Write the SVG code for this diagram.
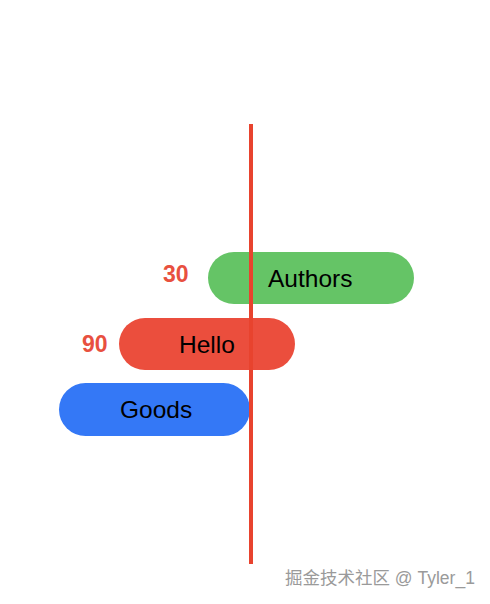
<svg xmlns="http://www.w3.org/2000/svg" width="490" height="604" viewBox="0 0 490 604">
<style>
.lbl{font-family:"Liberation Sans",Arial,sans-serif;font-size:24.5px;fill:#000}
.num{font-family:"Liberation Sans",Arial,sans-serif;font-size:23px;font-weight:bold;fill:#E8503F}
.wm{font-family:"Liberation Sans","Noto Sans CJK SC",sans-serif;font-size:17.5px;fill:#9a9a9a;stroke:#ffffff;stroke-width:0.6;paint-order:stroke}
</style>
<rect width="490" height="604" fill="#ffffff"/>
<g id="authors">
<rect x="208" y="252" width="206" height="52" rx="26" fill="#65C466"/>
<text class="lbl" x="268" y="287">Authors</text>
</g>
<g id="label30"><text class="num" x="163" y="282">30</text></g>
<g id="hello">
<rect x="119" y="318" width="176" height="52" rx="26" fill="#EB4E3D"/>
<text class="lbl" x="179" y="353">Hello</text>
</g>
<g id="label90"><text class="num" x="82" y="352">90</text></g>
<g id="goods">
<rect x="59" y="383" width="191" height="53" rx="26.5" fill="#3478F6"/>
<text class="lbl" x="120" y="418">Goods</text>
</g>
<g id="connectors">
<rect x="249" y="124" width="4" height="440" fill="#E8432E"/>
</g>
<text class="wm" x="285" y="584">掘金技术社区 @ Tyler_1</text>
</svg>
